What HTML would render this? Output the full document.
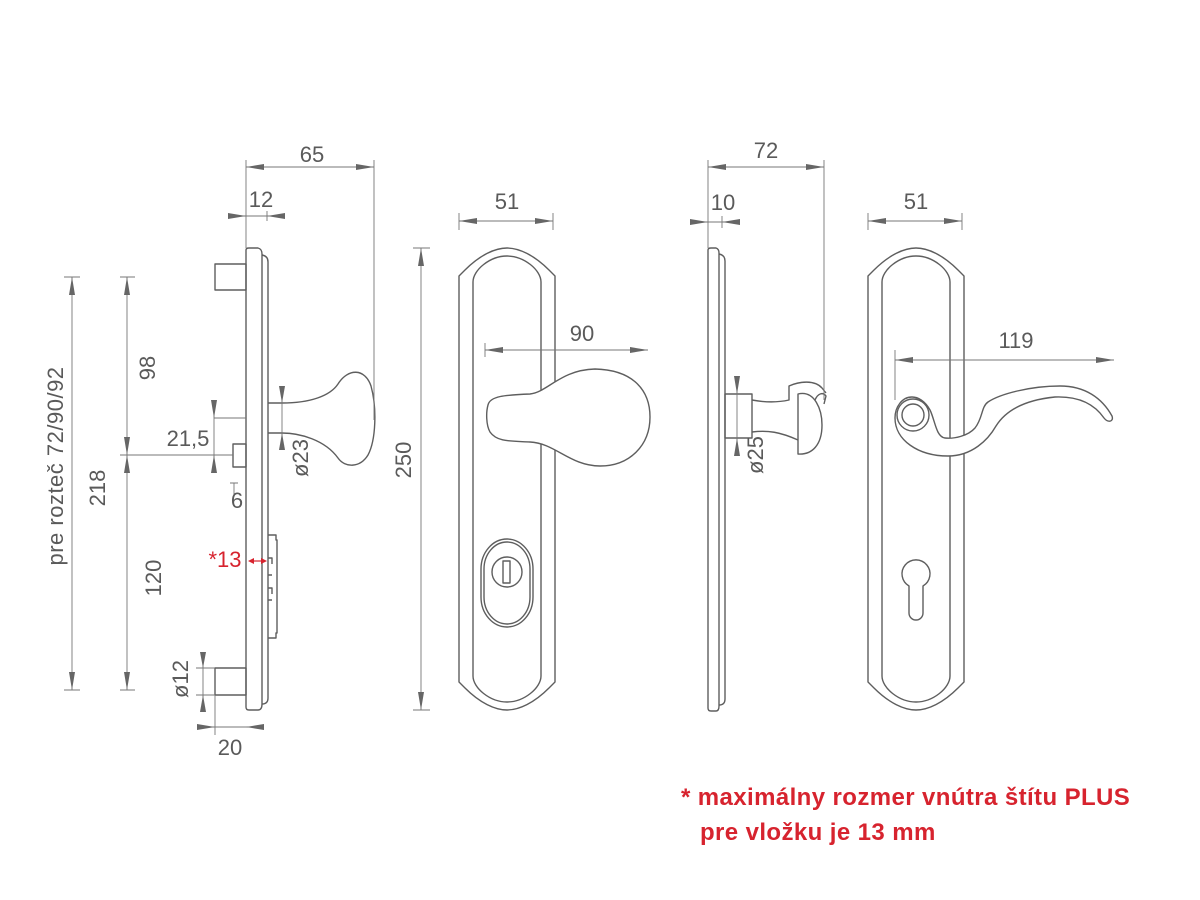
<!DOCTYPE html>
<html><head><meta charset="utf-8"><style>
html,body{margin:0;padding:0;background:#fff}
svg{display:block}
text{font-family:"Liberation Sans",sans-serif;fill:#5a5a5a}
</style></head><body>
<svg width="1200" height="900" viewBox="0 0 1200 900" xmlns="http://www.w3.org/2000/svg">
<g fill="none" stroke="#5e5e5e" stroke-width="1.4" stroke-linejoin="round">
<!-- side view 1 -->
<rect x="215" y="264" width="31" height="26"/>
<rect x="215" y="668" width="31" height="27"/>
<rect x="233" y="444" width="13" height="23"/>
<path d="M246,250 Q246,248 249,248 H258 Q262,249 262,254 V704 Q262,710 258,710 H249 Q246,710 246,707 Z"/>
<path d="M262,255 Q268,256 268,262 V698 Q268,704 262,704"/>
<path d="M268,403 H282 C310,403 330,396 338,384 C348,368 365,368 371,386 C377,408 376,440 368,455 C360,468 345,468 338,458 C325,440 300,433 282,433 H268"/>
<path d="M268,535 H276 V540 H277 V633 H276 V638 H268"/>
<path d="M268,558 H272 V564 M268,575 H272 M268,588 H272 V594 M268,600 H272"/>
<!-- front plate 1 -->
<path d="M459,276 L465,270 C480,255 495,248 507,248 C519,248 534,255 549,270 L555,276 V682 L549,688 C534,703 519,710 507,710 C495,710 480,703 465,688 L459,682 Z"/>
<path d="M473,282 C473,270 490,256 507,256 C524,256 541,270 541,282 V676 C541,688 524,702 507,702 C490,702 473,688 473,676 Z"/>
<path fill="#fff" d="M488,405 C490,396 505,395 530,394 C548,392 560,370 595,369 C635,370 650,392 650,417 C650,445 630,466 600,466 C570,466 555,443 530,442 C510,441 497,442 490,432 C486,425 486,412 488,405 Z"/>
<rect x="481" y="539" width="52" height="88" rx="26" ry="30"/>
<rect x="484" y="542" width="46" height="82" rx="23" ry="27"/>
<circle cx="507" cy="572" r="15"/>
<rect x="503" y="561" width="7" height="22"/>
<!-- side view 2 -->
<path d="M708,250 Q708,248 711,248 H716 Q719,249 719,253 V706 Q719,711 716,711 H711 Q708,711 708,708 Z"/>
<path d="M719,254 Q725,255 725,261 V699 Q725,705 719,705"/>
<rect x="725" y="394" width="27" height="44"/>
<path d="M752,400 C768,403 780,402 789,400 V386 C800,381 815,380 822,388 L826,393 M752,432 C768,430 780,432 798,440"/>
<path d="M798,394 C815,390 822,410 822,425 C822,445 812,455 798,454 Z"/>
<path d="M815,400 C818,393 823,392 826,396 L824,404"/>
<!-- lever plate -->
<path d="M868,276 L874,270 C889,255 904,248 916,248 C928,248 943,255 958,270 L964,276 V682 L958,688 C943,703 928,710 916,710 C904,710 889,703 874,688 L868,682 Z"/>
<path d="M882,282 C882,270 899,256 916,256 C933,256 950,270 950,282 V676 C950,688 933,702 916,702 C899,702 882,688 882,676 Z"/>
<path fill="#fff" d="M895,418 C895,440 918,456 948,456 C972,456 988,440 996,426 C1006,410 1025,400 1055,397 C1080,396 1095,405 1104,418 C1108,423 1114,422 1112,416 C1102,398 1085,386 1060,386 C1030,386 1000,394 988,402 C981,407 983,418 975,428 C968,436 954,439 945,438 C936,437 935,420 930,410 C925,401 918,397 912,397 C902,397 895,407 895,418 Z"/>
<circle cx="913" cy="415" r="16" fill="#fff"/>
<circle cx="913" cy="415" r="11"/>
<path d="M909,586 A14,14 0 1 1 923,586 V613 A7,7 0 0 1 909,613 Z"/>
</g>
<!-- dimension lines -->
<g stroke="#777" stroke-width="0.9" fill="none">
<path d="M246,160 V248 M374,160 V420 M246,167 H374"/>
<path d="M228,216 H285 M267,211 V221"/>
<path d="M459,213 V230 M553,213 V230 M459,221 H553"/>
<path d="M413,248 H430 M413,710 H430 M421,248 V710"/>
<path d="M485,343 V357 M485,350 H648"/>
<path d="M708,160 V248 M824,160 V400 M708,167 H824"/>
<path d="M690,222 H740 M722,216 V228"/>
<path d="M868,213 V230 M962,213 V230 M868,221 H962"/>
<path d="M895,350 V400 M895,360 H1114"/>
<path d="M64,277 H80 M64,690 H80 M72,277 V690"/>
<path d="M120,277 H135 M120,690 H135 M127,277 V690 M120,455 H233 M214,418 H246"/>
<path d="M214,400 V473"/>
<path d="M234,483 V495 M230,483 H238"/>
<path d="M282,386 V450"/>
<path d="M203,652 V712 M196,668 H215 M196,695 H215"/>
<path d="M197,727 H264 M215,695 V735"/>
<path d="M737,376 V456"/>
</g>
<g fill="#666">
<polygon points="246,167 264,164 264,170"/><polygon points="374,167 356,164 356,170"/>
<polygon points="246,216 228,213 228,219"/><polygon points="267,216 285,213 285,219"/>
<polygon points="459,221 477,218 477,224"/><polygon points="553,221 535,218 535,224"/>
<polygon points="421,248 418,266 424,266"/><polygon points="421,710 418,692 424,692"/>
<polygon points="485,350 503,347 503,353"/><polygon points="648,350 630,347 630,353"/>
<polygon points="708,167 726,164 726,170"/><polygon points="824,167 806,164 806,170"/>
<polygon points="708,222 690,219 690,225"/><polygon points="722,222 740,219 740,225"/>
<polygon points="868,221 886,218 886,224"/><polygon points="962,221 944,218 944,224"/>
<polygon points="895,360 913,357 913,363"/><polygon points="1114,360 1096,357 1096,363"/>
<polygon points="72,277 69,295 75,295"/><polygon points="72,690 69,672 75,672"/>
<polygon points="127,277 124,295 130,295"/><polygon points="127,455 124,437 130,437"/>
<polygon points="127,455 124,473 130,473"/><polygon points="127,690 124,672 130,672"/>
<polygon points="214,418 211,400 217,400"/><polygon points="214,455 211,473 217,473"/>
<polygon points="282,403 279,386 285,386"/><polygon points="282,433 279,450 285,450"/>
<polygon points="203,668 200,652 206,652"/><polygon points="203,695 200,712 206,712"/>
<polygon points="215,727 197,724 197,730"/><polygon points="246,727 264,724 264,730"/>
<polygon points="737,394 734,376 740,376"/><polygon points="737,438 734,456 740,456"/>
</g>
<g stroke="#d7232e" stroke-width="1.2"><path d="M250,561 H265"/></g>
<g fill="#d7232e"><polygon points="248,561 254,558 254,564"/><polygon points="267,561 261,558 261,564"/></g>
<g font-size="22" text-anchor="middle">
<text x="312" y="162">65</text>
<text x="261" y="207">12</text>
<text x="507" y="209">51</text>
<text x="582" y="341">90</text>
<text x="766" y="158">72</text>
<text x="723" y="210">10</text>
<text x="916" y="209">51</text>
<text x="1016" y="348">119</text>
<text x="188" y="446">21,5</text>
<text x="237" y="508">6</text>
<text x="230" y="755">20</text>
<text transform="translate(411,460) rotate(-90)">250</text>
<text transform="translate(63,466) rotate(-90)" letter-spacing="0.5">pre rozteč 72/90/92</text>
<text transform="translate(105,488) rotate(-90)">218</text>
<text transform="translate(155,368) rotate(-90)">98</text>
<text transform="translate(161,578) rotate(-90)">120</text>
<text transform="translate(308,458) rotate(-90)">ø23</text>
<text transform="translate(188,679) rotate(-90)">ø12</text>
<text transform="translate(763,455) rotate(-90)">ø25</text>
<text x="225" y="567" style="fill:#d7232e">*13</text>
</g>
<g font-size="24" style="font-weight:600" letter-spacing="0.4">
<text x="681" y="805" style="fill:#d7232e">* maximálny rozmer vnútra štítu PLUS</text>
<text x="700" y="840" style="fill:#d7232e">pre vložku je 13 mm</text>
</g>
</svg>
</body></html>
